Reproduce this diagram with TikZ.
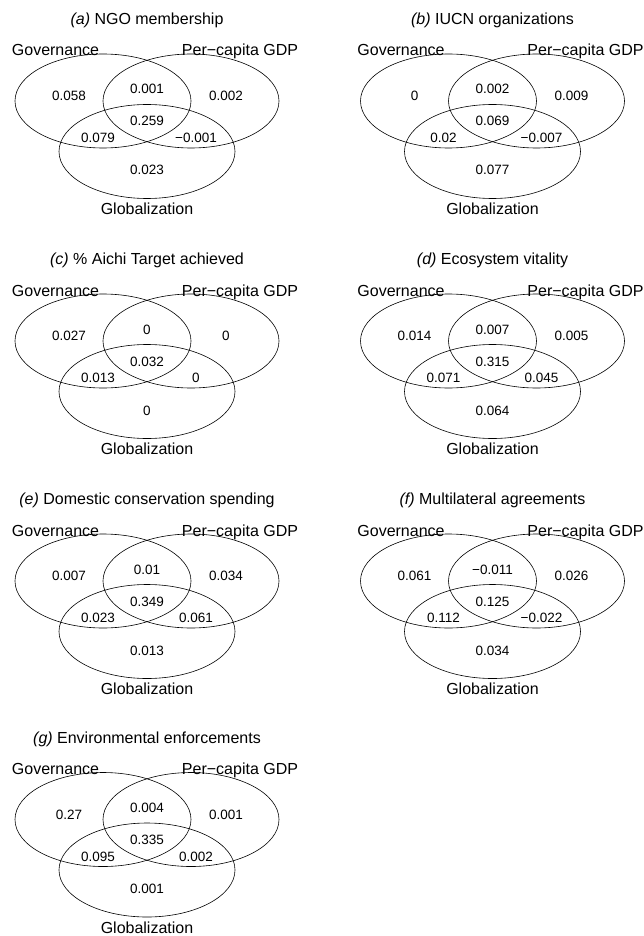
\documentclass[tikz,border=0pt]{standalone}
\usepackage{fontspec}
\setmainfont{Liberation Sans}
\usetikzlibrary{shapes.geometric}
\tikzset{
  vennset/.style={draw, ellipse, line width=0.6pt, minimum width=176pt, minimum height=94pt, inner sep=0pt},
  setlabel/.style={anchor=base, inner sep=0pt, font=\fontsize{16}{18}\selectfont},
  paneltitle/.style={anchor=base, inner sep=0pt, font=\fontsize{16}{18}\selectfont},
  value/.style={anchor=base, inner sep=0pt, font=\fontsize{13.5}{15}\selectfont},
}
\newcommand\vennframe[2]{%
  \node[paneltitle] (#1-title) at (147,24.5) {#2};
  \node[vennset] (#1-gov) at (103,101) {};
  \node[vennset] (#1-gdp) at (191,101) {};
  \node[vennset] (#1-glo) at (147,151.5) {};
  \node[setlabel] (#1-govlab) at (55.5,56) {Governance};
  \node[setlabel] (#1-gdplab) at (240,56) {Per−capita GDP};
  \node[setlabel] (#1-glolab) at (147,214.5) {Globalization};
}
\newcommand\vennvalues[8]{%
  \node[value] (#1-a) at (69,100.7) {#2};
  \node[value] (#1-ab) at (147,94) {#3};
  \node[value] (#1-b) at (226,100.7) {#4};
  \node[value] (#1-abc) at (147,126) {#5};
  \node[value] (#1-ac) at (98,142.7) {#6};
  \node[value] (#1-bc) at (196,142.7) {#7};
  \node[value] (#1-c) at (147,175) {#8};
}
\begin{document}
\begin{tikzpicture}[x=1pt,y=-1pt]
  \useasboundingbox (0,0) rectangle (643,936);
  \clip (0,0) rectangle (643,936);
  \begin{scope}[shift={(0,0)}]
    \vennframe{a}{\textit{(a)} NGO membership}
    \vennvalues{a}{0.058}{0.001}{0.002}{0.259}{0.079}{−0.001}{0.023}
  \end{scope}
  \begin{scope}[shift={(345.5,0)}]
    \vennframe{b}{\textit{(b)} IUCN organizations}
    \vennvalues{b}{0}{0.002}{0.009}{0.069}{0.02}{−0.007}{0.077}
  \end{scope}
  \begin{scope}[shift={(0,240)}]
    \vennframe{c}{\textit{(c)} \% Aichi Target achieved}
    \vennvalues{c}{0.027}{0}{0}{0.032}{0.013}{0}{0}
  \end{scope}
  \begin{scope}[shift={(345.5,240)}]
    \vennframe{d}{\textit{(d)} Ecosystem vitality}
    \vennvalues{d}{0.014}{0.007}{0.005}{0.315}{0.071}{0.045}{0.064}
  \end{scope}
  \begin{scope}[shift={(0,480)}]
    \vennframe{e}{\textit{(e)} Domestic conservation spending}
    \vennvalues{e}{0.007}{0.01}{0.034}{0.349}{0.023}{0.061}{0.013}
  \end{scope}
  \begin{scope}[shift={(345.5,480)}]
    \vennframe{f}{\textit{(f)} Multilateral agreements}
    \vennvalues{f}{0.061}{−0.011}{0.026}{0.125}{0.112}{−0.022}{0.034}
  \end{scope}
  \begin{scope}[shift={(0,718.5)}]
    \vennframe{g}{\textit{(g)} Environmental enforcements}
    \vennvalues{g}{0.27}{0.004}{0.001}{0.335}{0.095}{0.002}{0.001}
  \end{scope}
\end{tikzpicture}
\end{document}
